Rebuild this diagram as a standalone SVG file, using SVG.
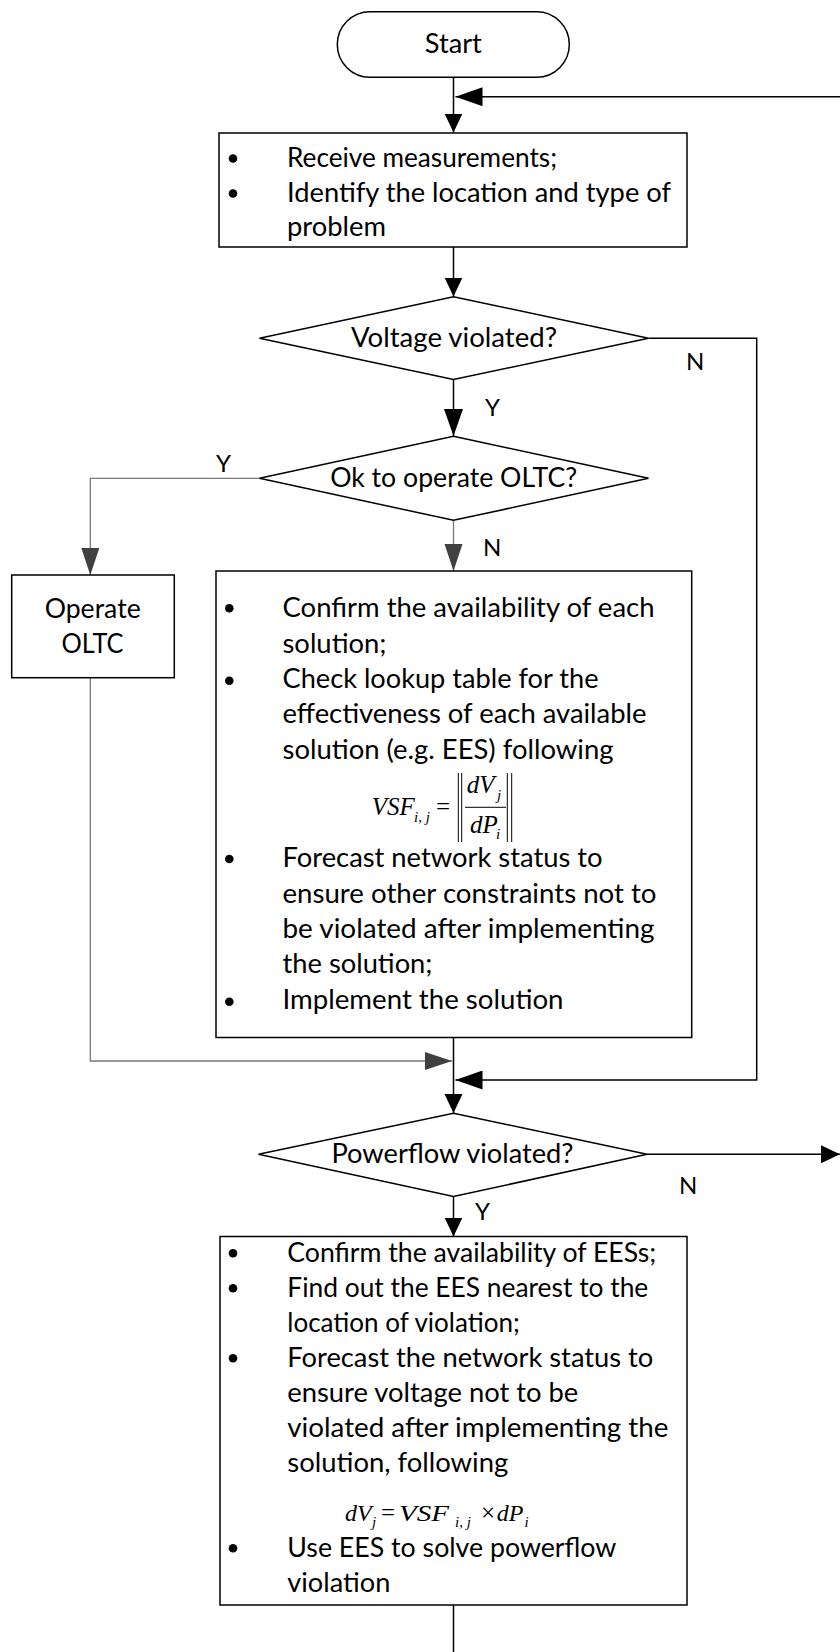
<svg xmlns="http://www.w3.org/2000/svg" width="840" height="1652" viewBox="0 0 840 1652">
<defs>
<style>
.box{fill:#fff;stroke:#000;stroke-width:1.5}
.t{font-family:Lato,"Open Sans",sans-serif;font-size:26px;fill:#000}
.c{text-anchor:middle}
.lbl{font-family:Lato,"Open Sans",sans-serif;font-size:24px;fill:#000}
.ln{fill:none;stroke:#000;stroke-width:1.5}
.lg{fill:none;stroke:#7a7a7a;stroke-width:1.3}
.m{font-family:"Liberation Serif",serif;font-style:italic;font-size:25px;fill:#000}
.m3{font-family:"Liberation Serif",serif;font-style:italic;font-size:24px;fill:#000}
.ms{font-family:"Liberation Serif",serif;font-style:italic;font-size:15px;fill:#000}
.mu{font-family:"Liberation Serif",serif;font-size:25px;fill:#000}
.bar{stroke:#000;stroke-width:1}
</style>
<marker id="aS" markerUnits="userSpaceOnUse" markerWidth="20" markerHeight="19" refX="19" refY="9" orient="auto"><path d="M0,0 L19,9 L0,18 z" fill="#000"/></marker>
<marker id="aL" markerUnits="userSpaceOnUse" markerWidth="28" markerHeight="19" refX="27" refY="9.5" orient="auto"><path d="M0,0 L27,9.5 L0,19 z" fill="#000"/></marker>
<marker id="aG" markerUnits="userSpaceOnUse" markerWidth="28" markerHeight="19" refX="27" refY="9" orient="auto"><path d="M0,0 L27,9 L0,18 z" fill="#404040"/></marker>
</defs>
<rect width="840" height="1652" fill="#fff"/>

<g id="connectors">
<path class="ln" d="M453.5,77.5 V132.5" marker-end="url(#aS)"/>
<path class="ln" d="M845,96.7 H455.5" marker-end="url(#aL)"/>
<path class="ln" d="M453.5,247 V296.5" marker-end="url(#aS)"/>
<path class="ln" d="M453.5,379.5 V436" marker-end="url(#aL)"/>
<path class="ln" d="M648.5,338.3 H756.7 V1080 H455.5" marker-end="url(#aL)"/>
<path class="lg" d="M259.5,478.3 H90.3 V575" marker-end="url(#aG)"/>
<path class="lg" d="M453.5,520.3 V571" marker-end="url(#aG)"/>
<path class="lg" d="M90.3,677.7 V1061 H452" marker-end="url(#aG)"/>
<path class="ln" d="M453.5,1037.5 V1113" marker-end="url(#aS)"/>
<path class="ln" d="M647,1154.3 H840" marker-end="url(#aS)"/>
<path class="ln" d="M453.5,1196.5 V1236.5" marker-end="url(#aS)"/>
<path class="ln" d="M453.5,1605 V1652"/>
<text class="lbl" x="686" y="370">N</text>
<text class="lbl" x="485" y="415.5">Y</text>
<text class="lbl" x="216" y="471.5">Y</text>
<text class="lbl" x="483" y="556">N</text>
<text class="lbl" x="679" y="1193.5">N</text>
<text class="lbl" x="475" y="1220">Y</text>
</g>

<g id="start">
<rect class="box" x="337.3" y="11.7" width="232" height="65.6" rx="32.8"/>
<text class="t c" x="453.3" y="53.3" textLength="57" lengthAdjust="spacingAndGlyphs">Start</text>
</g>

<g id="receive">
<rect class="box" x="219" y="133" width="468" height="114"/>
<circle cx="233" cy="158.5" r="4.3"/>
<circle cx="233" cy="193.5" r="4.3"/>
<text class="t" x="287" y="166.7" textLength="270" lengthAdjust="spacingAndGlyphs">Receive measurements;</text>
<text class="t" x="287" y="201.5" textLength="384" lengthAdjust="spacingAndGlyphs">Identify the location and type of</text>
<text class="t" x="287" y="235.5" textLength="99" lengthAdjust="spacingAndGlyphs">problem</text>
</g>

<g id="voltage">
<polygon class="box" points="453.5,296.7 648.5,338.3 453.5,379.5 259.5,338.3"/>
<text class="t c" x="454" y="347.3" textLength="206" lengthAdjust="spacingAndGlyphs">Voltage violated?</text>
</g>

<g id="oltc-check">
<polygon class="box" points="453.5,436.3 648.5,478.3 453.5,520.3 259.5,478.3"/>
<text class="t c" x="453.7" y="486.7" textLength="247" lengthAdjust="spacingAndGlyphs">Ok to operate OLTC?</text>
</g>

<g id="operate-oltc">
<rect class="box" x="11.7" y="575" width="162.6" height="102.7"/>
<text class="t c" x="92.7" y="618.3" textLength="96" lengthAdjust="spacingAndGlyphs">Operate</text>
<text class="t c" x="92.5" y="653.3" textLength="62" lengthAdjust="spacingAndGlyphs">OLTC</text>
</g>

<g id="solutions">
<rect class="box" x="216" y="571" width="475.7" height="466.5"/>
<circle cx="229.3" cy="608.3" r="4.3"/>
<circle cx="229.3" cy="680.7" r="4.3"/>
<circle cx="229.3" cy="859" r="4.3"/>
<circle cx="229.3" cy="1001.7" r="4.3"/>
<text class="t" x="282.5" y="616.7" textLength="372" lengthAdjust="spacingAndGlyphs">Confirm the availability of each</text>
<text class="t" x="282.5" y="652.7" textLength="104" lengthAdjust="spacingAndGlyphs">solution;</text>
<text class="t" x="282.5" y="688.3" textLength="316" lengthAdjust="spacingAndGlyphs">Check lookup table for the</text>
<text class="t" x="282.5" y="723.3" textLength="364" lengthAdjust="spacingAndGlyphs">effectiveness of each available</text>
<text class="t" x="282.5" y="759.3" textLength="331" lengthAdjust="spacingAndGlyphs">solution (e.g. EES) following</text>
<text class="m" x="371.7" y="815">VSF</text>
<text class="ms" x="414" y="821.7">i, j</text>
<text class="mu" x="436" y="815">=</text>
<line class="bar" x1="458.3" y1="773" x2="458.3" y2="842"/>
<line class="bar" x1="461.7" y1="773" x2="461.7" y2="842"/>
<line class="bar" x1="507.3" y1="773" x2="507.3" y2="842"/>
<line class="bar" x1="511.7" y1="773" x2="511.7" y2="842"/>
<line class="bar" x1="465" y1="807.3" x2="506" y2="807.3"/>
<text class="m" x="466.7" y="793.3">dV</text>
<text class="ms" x="497" y="799.5">j</text>
<text class="m" x="470" y="832.7">dP</text>
<text class="ms" x="496" y="838.5">i</text>
<text class="t" x="282.5" y="866.7" textLength="320" lengthAdjust="spacingAndGlyphs">Forecast network status to</text>
<text class="t" x="282.5" y="902.5" textLength="374" lengthAdjust="spacingAndGlyphs">ensure other constraints not to</text>
<text class="t" x="282.5" y="938" textLength="372" lengthAdjust="spacingAndGlyphs">be violated after implementing</text>
<text class="t" x="282.5" y="973.3" textLength="150" lengthAdjust="spacingAndGlyphs">the solution;</text>
<text class="t" x="282.5" y="1009" textLength="281" lengthAdjust="spacingAndGlyphs">Implement the solution</text>
</g>

<g id="powerflow">
<polygon class="box" points="453.5,1113.3 647,1154.3 453.5,1196.5 258.5,1154.3"/>
<text class="t c" x="452.5" y="1163.3" textLength="242" lengthAdjust="spacingAndGlyphs">Powerflow violated?</text>
</g>

<g id="ees">
<rect class="box" x="220" y="1236.5" width="467" height="368.5"/>
<circle cx="233" cy="1253.3" r="4.3"/>
<circle cx="233" cy="1288.3" r="4.3"/>
<circle cx="233" cy="1358.3" r="4.3"/>
<circle cx="233" cy="1548.3" r="4.3"/>
<text class="t" x="287.3" y="1261.5" textLength="369" lengthAdjust="spacingAndGlyphs">Confirm the availability of EESs;</text>
<text class="t" x="287.3" y="1296.5" textLength="361" lengthAdjust="spacingAndGlyphs">Find out the EES nearest to the</text>
<text class="t" x="287.3" y="1331.5">location of violation;</text>
<text class="t" x="287.3" y="1366.5" textLength="366" lengthAdjust="spacingAndGlyphs">Forecast the network status to</text>
<text class="t" x="287.3" y="1401.5" textLength="291" lengthAdjust="spacingAndGlyphs">ensure voltage not to be</text>
<text class="t" x="287.3" y="1436.7" textLength="381" lengthAdjust="spacingAndGlyphs">violated after implementing the</text>
<text class="t" x="287.3" y="1471.7" textLength="221" lengthAdjust="spacingAndGlyphs">solution, following</text>
<text class="m3" x="345" y="1520.5">dV</text>
<text class="ms" x="372" y="1527">j</text>
<text class="mu" x="381" y="1520.5">=</text>
<text class="m3" x="399" y="1520.5" textLength="50" lengthAdjust="spacingAndGlyphs">VSF</text>
<text class="ms" x="455" y="1527">i, j</text>
<text class="mu" x="481" y="1520.5">×</text>
<text class="m3" x="496.7" y="1520.5">dP</text>
<text class="ms" x="524.5" y="1527">i</text>
<text class="t" x="287.3" y="1556.7" textLength="329" lengthAdjust="spacingAndGlyphs">Use EES to solve powerflow</text>
<text class="t" x="287.3" y="1591.7" textLength="103" lengthAdjust="spacingAndGlyphs">violation</text>
</g>
</svg>
